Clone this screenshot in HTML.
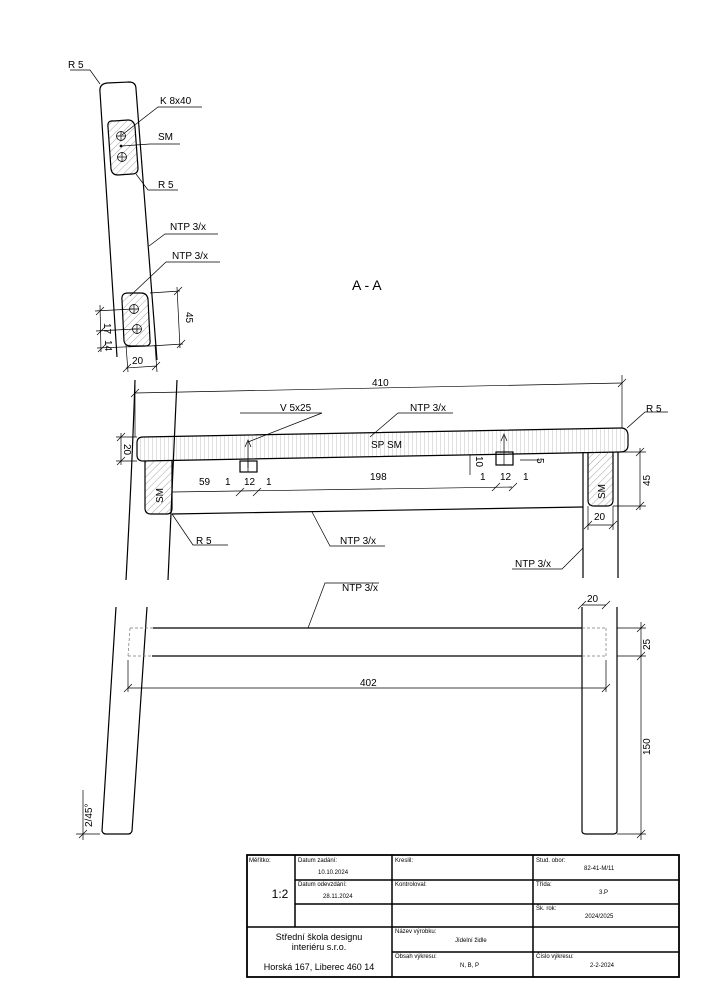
<!DOCTYPE html>
<html><head><meta charset="utf-8"><style>
html,body{margin:0;padding:0;background:#fff;}
svg{display:block;font-family:"Liberation Sans",sans-serif;}
</style></head><body>
<svg width="707" height="1000" viewBox="0 0 707 1000" xmlns="http://www.w3.org/2000/svg">
<defs>
<pattern id="hd" width="5" height="5" patternUnits="userSpaceOnUse" patternTransform="rotate(45)"><line x1="0" y1="0" x2="0" y2="5" stroke="#666" stroke-width="0.6"/></pattern>
<pattern id="hv" width="4" height="10" patternUnits="userSpaceOnUse"><line x1="0" y1="0" x2="0" y2="10" stroke="#999" stroke-width="0.6"/></pattern>
</defs>
<g fill="none" stroke="#000" stroke-width="1.2">
<path d="M117,357 L100,92 Q99,84 107,83 L129,82 Q136,82 136,89 L157,360"/>
<path d="M114,121 Q107,120 108,127 L111,169 Q112,175 118,175 L132,174 Q138,174 138,168 L135,127 Q134,120 128,120 Z" fill="url(#hd)"/>
<path d="M128,293 Q121,293 122,300 L124,341 Q125,346 131,346 L145,346 Q151,346 150,340 L148,299 Q147,293 141,293 Z" fill="url(#hd)"/>
</g>
<g fill="none" stroke="#000" stroke-width="0.7">
<circle cx="121" cy="136" r="4.5"/><circle cx="122" cy="157" r="4.5"/>
<line x1="116" y1="136" x2="126" y2="136"/><line x1="121" y1="131" x2="121" y2="141"/>
<line x1="117" y1="157" x2="127" y2="157"/><line x1="122" y1="152" x2="122" y2="162"/>
<circle cx="134" cy="309" r="4.5"/><circle cx="137" cy="329" r="4.5"/>
<line x1="129" y1="309" x2="139" y2="309"/><line x1="134" y1="304" x2="134" y2="314"/>
<line x1="132" y1="329" x2="142" y2="329"/><line x1="137" y1="324" x2="137" y2="334"/>
<circle cx="121" cy="146" r="1" fill="#000"/>
<polyline points="70,70 90,70 100,84"/>
<polyline points="202,107 158,107 122,135"/>
<polyline points="180,144 150,144 122,146"/>
<polyline points="178,190 148,190 136,174"/>
<polyline points="218,234 165,234 149,246"/>
<polyline points="220,262 166,262 130,296"/>
<line x1="95" y1="311" x2="133" y2="309"/><line x1="96" y1="331" x2="136" y2="329"/><line x1="97" y1="348" x2="150" y2="346"/>
<line x1="100" y1="305" x2="101" y2="352"/>
<line x1="150" y1="293" x2="180" y2="291"/><line x1="150" y1="346" x2="183" y2="344"/><line x1="177" y1="287" x2="180" y2="348"/>
<line x1="126" y1="345" x2="128" y2="372"/><line x1="155" y1="345" x2="157" y2="372"/><line x1="126" y1="368" x2="157" y2="366"/>
<path d="M96,315 l8,-8 M97,335 l8,-8 M98,352 l8,-8 M174,295 l8,-8 M177,348 l8,-8 M123,372 l8,-8 M152,370 l8,-8"/>
</g>
<g font-size="10" fill="#000">
<text x="68" y="68">R 5</text><text x="160" y="104">K 8x40</text><text x="158" y="140">SM</text>
<text x="158" y="188">R 5</text><text x="170" y="230">NTP 3/x</text><text x="172" y="259">NTP 3/x</text>
<text x="132" y="364">20</text>
<text transform="translate(104,323) rotate(90)">17</text>
<text transform="translate(105,340) rotate(90)">14</text>
<text transform="translate(186,312) rotate(90)">45</text>
<text x="352" y="290" font-size="14">A - A</text>
</g>
<g fill="none" stroke="#000" stroke-width="1.2">
<path d="M135,380 Q132,470 126,580"/>
<path d="M177,380 Q173,470 168,580"/>
<path d="M143,437 L621,428 Q628,428 628,436 L628,445 Q628,452 620,452 L143,461 Q137,461 137,455 L137,443 Q137,437 143,437 Z" fill="url(#hv)"/>
<path d="M145,461 L145,508 Q145,514 151,514 L167,514 Q172,514 172,508 L172,461" fill="url(#hd)"/>
<path d="M588,452 L588,500 Q588,506 594,506 L607,506 Q613,506 613,500 L613,452" fill="url(#hd)"/>
<line x1="172" y1="514" x2="583" y2="507"/>
<line x1="583" y1="452" x2="583" y2="578"/><line x1="618" y1="452" x2="618" y2="578"/>
<rect x="240" y="461" width="17" height="11"/><rect x="496" y="452" width="17" height="13"/>
</g>
<g fill="none" stroke="#000" stroke-width="0.7">
<line x1="248" y1="461" x2="248" y2="472"/><line x1="504" y1="452" x2="504" y2="465"/>
<line x1="248" y1="468" x2="248" y2="442"/><polyline points="245,447 248,440 251,447"/>
<line x1="504" y1="452" x2="504" y2="436"/><polyline points="501,441 504,434 507,441"/>
<line x1="135" y1="393" x2="622" y2="383"/><line x1="135" y1="385" x2="135" y2="437"/><line x1="622" y1="375" x2="622" y2="428"/>
<path d="M131,397 l8,-8 M618,387 l8,-8 M117,441 l8,-8 M117,465 l8,-8 M636,456 l8,-8 M636,510 l8,-8 M584,529 l8,-8 M609,529 l8,-8 M236,496 l8,-8 M253,496 l8,-8 M492,491 l8,-8 M509,491 l8,-8"/>
<line x1="116" y1="437" x2="137" y2="437"/><line x1="116" y1="461" x2="137" y2="461"/><line x1="121" y1="433" x2="121" y2="465"/>
<line x1="172" y1="492" x2="512" y2="487"/>
<line x1="618" y1="452" x2="646" y2="452"/><line x1="613" y1="506" x2="646" y2="506"/><line x1="640" y1="448" x2="640" y2="510"/>
<line x1="588" y1="525" x2="613" y2="525"/><line x1="588" y1="506" x2="588" y2="530"/><line x1="613" y1="506" x2="613" y2="530"/>
<polyline points="240,413 322,413 248,442"/>
<polyline points="453,413 398,413 370,437"/>
<polyline points="668,412 645,412 627,428"/>
<polyline points="228,545 193,545 172,514"/>
<polyline points="385,546 330,546 312,512"/>
<polyline points="512,569 562,569 583,548"/>
<line x1="470" y1="455" x2="470" y2="475"/><line x1="520" y1="460" x2="540" y2="460"/>
</g>
<g font-size="10" fill="#000">
<text x="372" y="386">410</text><text x="280" y="411">V 5x25</text><text x="410" y="411">NTP 3/x</text>
<text x="646" y="412">R 5</text><text x="371" y="448">SP SM</text>
<text transform="translate(124,444) rotate(90)">20</text>
<text x="199" y="485">59</text><text x="225" y="485">1</text><text x="244" y="485">12</text><text x="266" y="485">1</text>
<text x="370" y="480">198</text><text x="480" y="480">1</text><text x="500" y="480">12</text><text x="523" y="480">1</text>
<text transform="translate(476,456) rotate(90)">10</text><text transform="translate(537,458) rotate(90)">5</text>
<text transform="translate(163,503) rotate(-90)">SM</text><text transform="translate(605,499) rotate(-90)">SM</text>
<text transform="translate(650,486) rotate(-90)">45</text>
<text x="594" y="520">20</text><text x="196" y="544">R 5</text><text x="340" y="544">NTP 3/x</text><text x="515" y="567">NTP 3/x</text>
</g>
<g fill="none" stroke="#000" stroke-width="1.2">
<path d="M116,607 L102,831 Q103,834 106,834 L128,834 Q131,834 132,831 L147,607"/>
<path d="M582,607 L582,831 Q582,834 586,834 L613,834 Q617,834 617,831 L617,607"/>
<line x1="153" y1="628" x2="582" y2="628"/><line x1="152" y1="656" x2="582" y2="656"/>
</g>
<g fill="none" stroke="#000" stroke-width="0.7">
<path d="M130,628 L153,628 M128,656 L152,656 M130,628 L128,656 M582,628 L606,628 M582,656 L606,656 M606,628 L606,656" stroke="#777" stroke-dasharray="3,2"/>
<line x1="128" y1="688" x2="606" y2="688"/><line x1="128" y1="660" x2="128" y2="692"/><line x1="606" y1="660" x2="606" y2="692"/>
<line x1="582" y1="605" x2="606" y2="605"/>
<line x1="617" y1="628" x2="646" y2="628"/><line x1="617" y1="656" x2="646" y2="656"/><line x1="617" y1="834" x2="646" y2="834"/>
<line x1="641" y1="622" x2="641" y2="840"/>
<path d="M124,692 l8,-8 M602,692 l8,-8 M578,609 l8,-8 M602,609 l8,-8 M637,632 l8,-8 M637,660 l8,-8 M637,838 l8,-8 M79,838 l8,-8"/>
<polyline points="379,583 325,583 308,628"/>
<line x1="76" y1="834" x2="100" y2="834"/><line x1="83" y1="790" x2="83" y2="840"/>
</g>
<g font-size="10" fill="#000">
<text x="342" y="591">NTP 3/x</text><text x="360" y="686">402</text><text x="587" y="602">20</text>
<text transform="translate(650,650) rotate(-90)">25</text><text transform="translate(650,755) rotate(-90)">150</text>
<text transform="translate(92,827) rotate(-90)">2/45°</text>
</g>
<g fill="none" stroke="#000">
<rect x="247" y="855" width="432" height="122" stroke-width="1.8"/>
<g stroke-width="1.5">
<line x1="295" y1="855" x2="295" y2="927"/><line x1="392" y1="855" x2="392" y2="977"/><line x1="533" y1="855" x2="533" y2="977"/>
<line x1="295" y1="880" x2="679" y2="880"/><line x1="295" y1="904" x2="679" y2="904"/>
<line x1="247" y1="927" x2="679" y2="927"/><line x1="392" y1="952" x2="679" y2="952"/>
</g></g>
<g font-size="6" fill="#000">
<text x="249" y="862">Měřítko:</text><text x="298" y="862">Datum zadání:</text><text x="318" y="874">10.10.2024</text>
<text x="298" y="886">Datum odevzdání:</text><text x="323" y="898">28.11.2024</text>
<text x="395" y="862">Kreslil:</text><text x="395" y="886">Kontroloval:</text>
<text x="536" y="862">Stud. obor:</text><text x="584" y="870">82-41-M/11</text>
<text x="536" y="886">Třída:</text><text x="599" y="894">3.P</text>
<text x="536" y="910">Šk. rok:</text><text x="585" y="918">2024/2025</text>
<text x="395" y="933">Název výrobku:</text><text x="455" y="942">Jídelní židle</text>
<text x="395" y="958">Obsah výkresu:</text><text x="460" y="967">N, B, P</text>
<text x="536" y="958">Číslo výkresu:</text><text x="590" y="967">2-2-2024</text>
</g>
<g font-size="9" fill="#000" text-anchor="middle">
<text x="319" y="940">Střední škola designu</text><text x="319" y="950">interiéru s.r.o.</text>
<text x="319" y="970">Horská 167, Liberec  460 14</text>
<text x="280" y="898" font-size="12">1:2</text>
</g>
</svg>
</body></html>
